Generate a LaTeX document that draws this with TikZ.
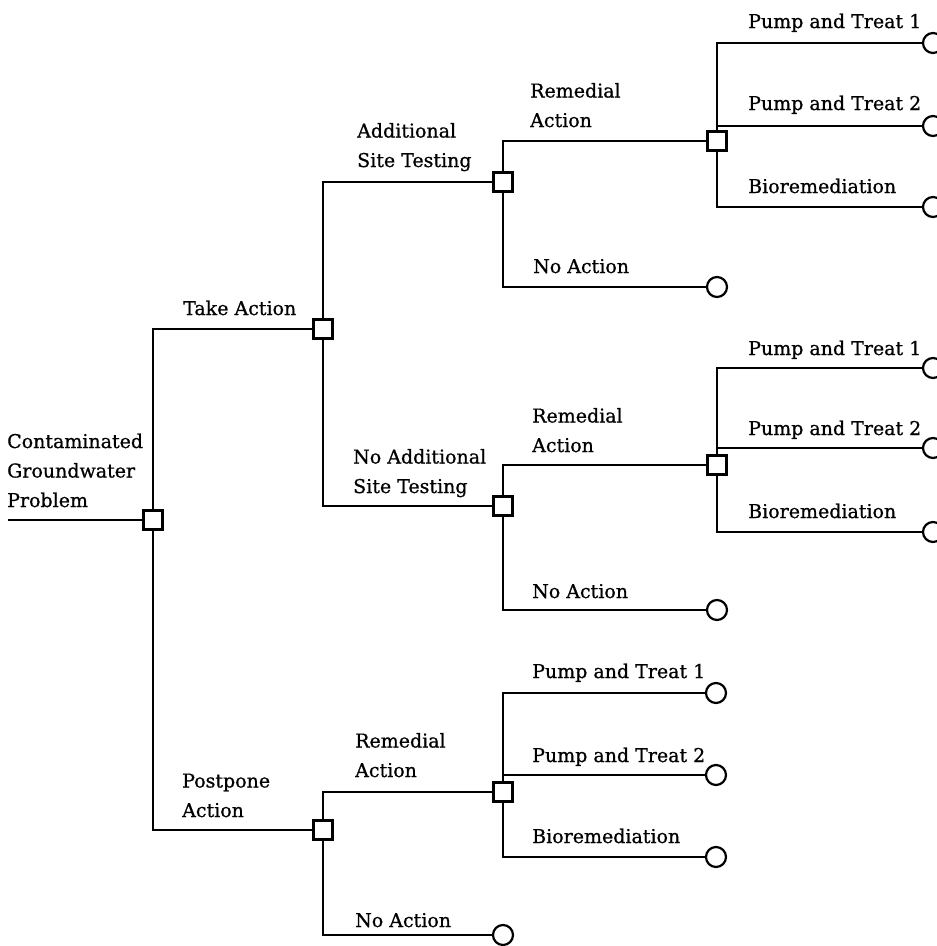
\documentclass[tikz,border=0pt]{standalone}
\usepackage{fontspec}
\setmainfont[FakeBold=0.8]{DejaVu Serif}
\usetikzlibrary{backgrounds}

\begin{document}
\begin{tikzpicture}[x=1pt,y=-1pt,
    decision/.style={draw, fill=white, line width=2.4pt, minimum size=19pt,
                     inner sep=0pt, outer sep=0pt},
    outcome/.style={draw, fill=white, circle, line width=2.2pt, minimum size=20pt,
                    inner sep=0pt, outer sep=0pt},
    branch/.style={line width=2.4pt},
    lbl/.style={anchor=base west, inner sep=0pt, align=left,
                font=\fontsize{19}{29.5}\selectfont}]
  \useasboundingbox (0,0) rectangle (937,946);

  % decision nodes
  \node[decision] (root) at (153,520) {};
  \node[decision] (take) at (323,329) {};
  \node[decision] (post) at (323,830) {};
  \node[decision] (ast)  at (503,182) {};
  \node[decision] (nast) at (503,506) {};
  \node[decision] (ra1)  at (717,141) {};
  \node[decision] (ra2)  at (717,465) {};
  \node[decision] (ra3)  at (503,792) {};

  % outcome nodes
  \node[outcome] (na1) at (717,287) {};
  \node[outcome] (na2) at (717,610) {};
  \node[outcome] (na3) at (503,935) {};
  \node[outcome] (a1) at (933,43)  {};
  \node[outcome] (a2) at (933,126) {};
  \node[outcome] (a3) at (933,207) {};
  \node[outcome] (b1) at (933,368) {};
  \node[outcome] (b2) at (933,448) {};
  \node[outcome] (b3) at (933,532) {};
  \node[outcome] (c1) at (716,693) {};
  \node[outcome] (c2) at (716,775) {};
  \node[outcome] (c3) at (716,857) {};

  \coordinate (start) at (8,520);

  % branches
  \begin{scope}[on background layer]
    \draw[branch] (start) -- (root.west);
    \draw[branch] (root.center) |- (take.west);
    \draw[branch] (root.center) |- (post.west);
    \draw[branch] (take.center) |- (ast.west);
    \draw[branch] (take.center) |- (nast.west);
    \draw[branch] (ast.center) |- (ra1.west);
    \draw[branch] (ast.center) |- (na1.west);
    \draw[branch] (nast.center) |- (ra2.west);
    \draw[branch] (nast.center) |- (na2.west);
    \draw[branch] (post.center) |- (ra3.west);
    \draw[branch] (post.center) |- (na3.west);
    \foreach \s/\t in {ra1/a1, ra1/a2, ra1/a3, ra2/b1, ra2/b2, ra2/b3,
                       ra3/c1, ra3/c2, ra3/c3}
      \draw[branch] (\s.center) |- (\t.west);
  \end{scope}

  % labels
  \node[lbl] (lroot) at (7,507)   {Contaminated\\Groundwater\\Problem};
  \node[lbl] (ltake) at (183,315) {Take Action};
  \node[lbl] (last)  at (357,167) {Additional\\Site Testing};
  \node[lbl] (lnast) at (353,493) {No Additional\\Site Testing};
  \node[lbl] (lpost) at (182,817) {Postpone\\Action};

  \node[lbl] (lra1) at (530,127) {Remedial\\Action};
  \node[lbl] (lna1) at (533,273) {No Action};
  \node[lbl] (la1)  at (748,28)  {Pump and Treat 1};
  \node[lbl] (la2)  at (748,110) {Pump and Treat 2};
  \node[lbl] (la3)  at (748,193) {Bioremediation};

  \node[lbl] (lra2) at (532,452) {Remedial\\Action};
  \node[lbl] (lna2) at (532,598) {No Action};
  \node[lbl] (lb1)  at (748,355) {Pump and Treat 1};
  \node[lbl] (lb2)  at (748,435) {Pump and Treat 2};
  \node[lbl] (lb3)  at (748,518) {Bioremediation};

  \node[lbl] (lra3) at (355,777) {Remedial\\Action};
  \node[lbl] (lna3) at (355,927) {No Action};
  \node[lbl] (lc1)  at (532,678) {Pump and Treat 1};
  \node[lbl] (lc2)  at (532,762) {Pump and Treat 2};
  \node[lbl] (lc3)  at (532,843) {Bioremediation};
\end{tikzpicture}
\end{document}
